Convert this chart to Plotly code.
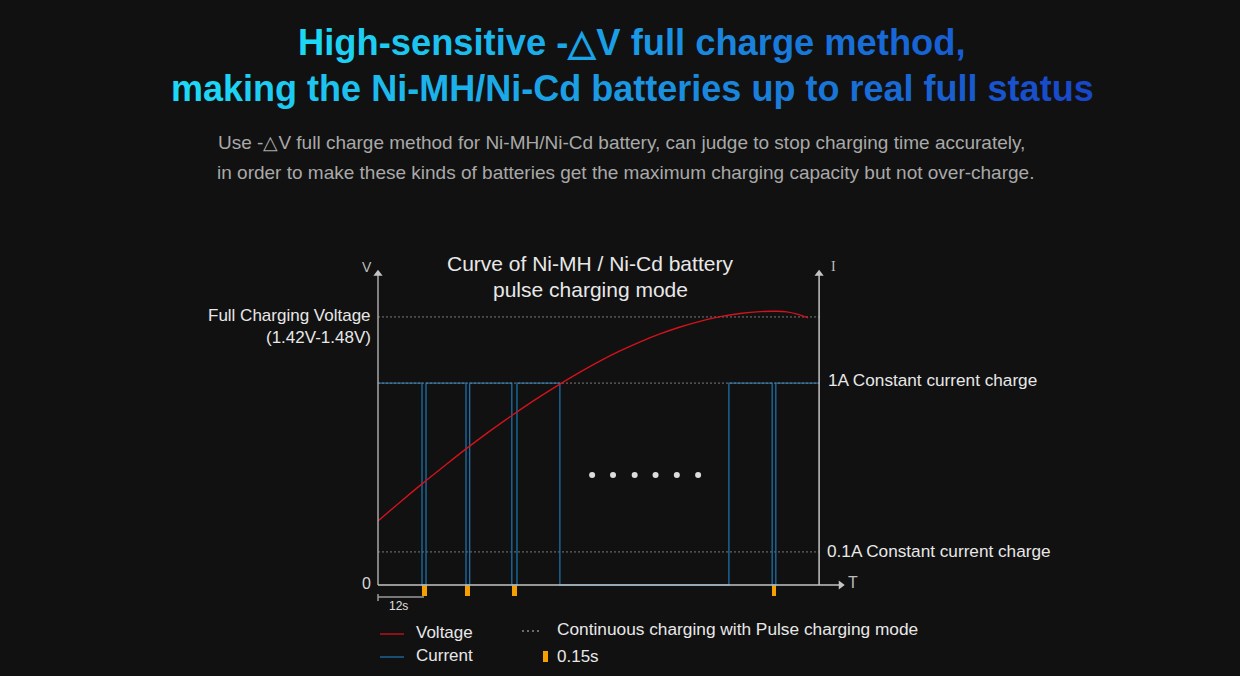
import plotly.graph_objects as go

# ---- data ----
# time axis in seconds (12 s between the V axis and the first pulse),
# levels on a 0-100 scale where 100 is the top of the V axis
volt_t = [0, 6.0, 12.0, 18.0, 24.0, 30.3, 36.5, 43.1, 49.6, 55.1, 60.5, 66.0,
          71.5, 76.9, 82.4, 87.8, 93.3, 98.7, 104.2, 108.8, 111.5, 114.3, 117.3]
volt_level = [20.3, 26.3, 32.1, 37.7, 43.2, 48.7, 53.8, 59.0, 63.8, 67.6, 71.1, 74.3,
              77.2, 79.7, 81.9, 83.7, 85.2, 86.2, 86.8, 86.9, 86.7, 86.0, 84.8]

curr_t = [0, 12.0, 13.1, 24.0, 25.0, 36.5, 37.9, 49.6, 95.7, 107.5, 108.5, 120.3]
curr_level = [64.1, 0, 64.1, 0, 64.1, 0, 64.1, 0, 64.1, 0, 64.1, 64.1]

pulse_t = [12.7, 24.4, 37.1, 108.0]   # 0.15 s pulse markers
pulse_width = 1.36

ellipsis_t = [58.4, 64.1, 70.0, 75.7, 81.5, 87.3]
ellipsis_level = 34.9

full_voltage_level = 85.1
current_1a_level = 64.1
current_01a_level = 10.5
t_end = 120.3          # right (I) axis
axis_top = 100
t_arrow = 127.4

BG = '#111111'
RED = '#d3121c'
BLUE = '#1c70a9'
ORANGE = '#f5a000'
GRID = '#7a7a7a'
AXIS = '#c4c4c4'
FONT = 'Liberation Sans, Arial, sans-serif'

# plot area in pixels
L, R, T, B = 360, 880, 250, 670
PX_PER_S = 44 / 12
PX_PER_LVL = 3.15
X0_PX, Y0_PX = 378, 585


def tx(px):
    return (px - X0_PX) / PX_PER_S


def ly(py):
    return (Y0_PX - py) / PX_PER_LVL


def paper_x(px):
    return (px - L) / (R - L)


def paper_y(py):
    return (B - py) / (B - T)


def gradient_text(text, c0, c1):
    # horizontal cyan -> blue gradient along the line
    out = []
    n = len(text)
    for i, ch in enumerate(text):
        f = (i + 0.5) / n
        col = '#%02x%02x%02x' % tuple(int(a + (b - a) * f) for a, b in zip(c0, c1))
        out.append("<span style='color:%s'>%s</span>" % (col, ch))
    return ''.join(out)


fig = go.Figure()

# reference (dotted) levels
for lvl in [full_voltage_level, current_01a_level]:
    fig.add_trace(go.Scatter(x=[0, t_end], y=[lvl, lvl], mode='lines',
                             line=dict(color=GRID, width=1, dash='2px,2px'),
                             hoverinfo='skip', showlegend=False))

# current
fig.add_trace(go.Scatter(x=curr_t, y=curr_level, mode='lines', line_shape='hv',
                         line=dict(color=BLUE, width=1.3), name='Current', showlegend=False))
fig.add_trace(go.Scatter(x=[0, t_end], y=[current_1a_level, current_1a_level], mode='lines',
                         line=dict(color=GRID, width=1, dash='2px,2px'),
                         hoverinfo='skip', showlegend=False))

# voltage
fig.add_trace(go.Scatter(x=volt_t, y=volt_level, mode='lines', line_shape='spline',
                         line=dict(color=RED, width=1.4, smoothing=1.0), name='Voltage', showlegend=False))

# pulse markers
fig.add_trace(go.Bar(x=pulse_t, y=[3.3] * len(pulse_t), base=-3.4, width=pulse_width,
                     marker=dict(color=ORANGE, line_width=0), showlegend=False))

# ellipsis
fig.add_trace(go.Scatter(x=ellipsis_t, y=[ellipsis_level] * len(ellipsis_t), mode='markers',
                         marker=dict(color='#dddddd', size=6), showlegend=False, hoverinfo='skip'))

# axes
fig.add_trace(go.Scatter(x=[0, 0], y=[0, axis_top - 1], mode='lines',
                         line=dict(color='#a8a8a8', width=1.5), showlegend=False, hoverinfo='skip'))
fig.add_trace(go.Scatter(x=[t_end, t_end], y=[0, axis_top - 1], mode='lines',
                         line=dict(color=AXIS, width=1.5), showlegend=False, hoverinfo='skip'))
fig.add_trace(go.Scatter(x=[0, t_arrow - 1], y=[0, 0], mode='lines',
                         line=dict(color=AXIS, width=1.5), showlegend=False, hoverinfo='skip'))
fig.add_trace(go.Scatter(x=[0, t_end], y=[axis_top - 1.2] * 2, mode='markers',
                         marker=dict(symbol='triangle-up', size=8, color=AXIS),
                         showlegend=False, hoverinfo='skip'))
fig.add_trace(go.Scatter(x=[t_arrow - 1.2], y=[0], mode='markers',
                         marker=dict(symbol='triangle-right', size=8, color=AXIS),
                         showlegend=False, hoverinfo='skip'))

shapes = []
# 12 s bracket
shapes.append(dict(type='line', x0=0, x1=tx(424), y0=ly(597), y1=ly(597),
                   line=dict(color='#9a9a9a', width=1.5)))
shapes.append(dict(type='line', x0=0, x1=0, y0=ly(594), y1=ly(601),
                   line=dict(color='#9a9a9a', width=1.5)))
# legend glyphs
shapes.append(dict(type='line', x0=tx(380), x1=tx(404), y0=ly(634), y1=ly(634),
                   line=dict(color=RED, width=1.3)))
shapes.append(dict(type='line', x0=tx(380), x1=tx(404), y0=ly(657), y1=ly(657),
                   line=dict(color=BLUE, width=1.3)))
shapes.append(dict(type='rect', x0=tx(543), x1=tx(548), y0=ly(651), y1=ly(662),
                   line_width=0, fillcolor=ORANGE))
for dx in [523, 528, 533, 538]:
    shapes.append(dict(type='circle', x0=tx(dx - 1), x1=tx(dx + 1), y0=ly(632), y1=ly(630),
                       line_width=0, fillcolor='#8a8a8a'))

ann = []


def label(text, x, y, size, color='#e8e8e8', xanchor='center', family=FONT, weight=None):
    f = dict(family=family, size=size, color=color)
    if weight:
        f['weight'] = weight
    ann.append(dict(text=text, x=x, y=y, xref='paper', yref='paper', xanchor=xanchor, yanchor='middle',
                    showarrow=False, font=f))


# header
label(gradient_text('High-sensitive -△V full charge method,', (0x1e, 0xda, 0xf6), (0x17, 0x5c, 0xd3)),
      paper_x(632), paper_y(42), 36.3, weight=700)
label(gradient_text('making the Ni-MH/Ni-Cd batteries up to real full status', (0x1e, 0xda, 0xf6), (0x18, 0x46, 0xc9)),
      paper_x(632), paper_y(88), 36, weight=700)
label('Use -△V full charge method for Ni-MH/Ni-Cd battery, can judge to stop charging time accurately,',
      paper_x(621), paper_y(142), 19, color='#a9a9a9')
label('in order to make these kinds of batteries get the maximum charging capacity but not over-charge.',
      paper_x(625), paper_y(172), 19, color='#a9a9a9')

# chart title
label('Curve of Ni-MH / Ni-Cd battery', paper_x(590), paper_y(263), 21)
label('pulse charging mode', paper_x(590), paper_y(289), 21)

# axis letters
label('V', paper_x(367), paper_y(267), 14, color='#bdbdbd')
label('I', paper_x(833), paper_y(266), 14, color='#bdbdbd', family='Liberation Serif, serif')
label('0', paper_x(366), paper_y(583), 16, color='#d8d8d8')
label('T', paper_x(853), paper_y(582), 16, color='#bdbdbd')
label('12s', paper_x(398), paper_y(606), 12, color='#e0e0e0')

# level labels
label('Full Charging Voltage', paper_x(373), paper_y(315), 17, xanchor='right')
label('(1.42V-1.48V)', paper_x(373), paper_y(337), 17, xanchor='right')
label('1A Constant current charge', paper_x(826), paper_y(380), 17.2, xanchor='left')
label('0.1A Constant current charge', paper_x(825), paper_y(551), 17.2, xanchor='left')

# legend text
label('Voltage', paper_x(414), paper_y(632), 17, xanchor='left')
label('Current', paper_x(414), paper_y(655), 17, xanchor='left')
label('Continuous charging with Pulse charging mode', paper_x(555), paper_y(629), 17.3, xanchor='left')
label('0.15s', paper_x(555), paper_y(656), 17, xanchor='left')

fig.update_layout(
    width=1240, height=676,
    margin=dict(l=L, r=1240 - R, t=T, b=676 - B, pad=0),
    paper_bgcolor=BG, plot_bgcolor=BG,
    showlegend=False,
    xaxis=dict(range=[tx(L), tx(R)], visible=False, fixedrange=True),
    yaxis=dict(range=[ly(B), ly(T)], visible=False, fixedrange=True),
    shapes=shapes, annotations=ann,
    bargap=0,
)

fig.write_html('out.html', config={'displayModeBar': False},
               post_script="document.body.style.margin='0';document.body.style.background='#111111';")
